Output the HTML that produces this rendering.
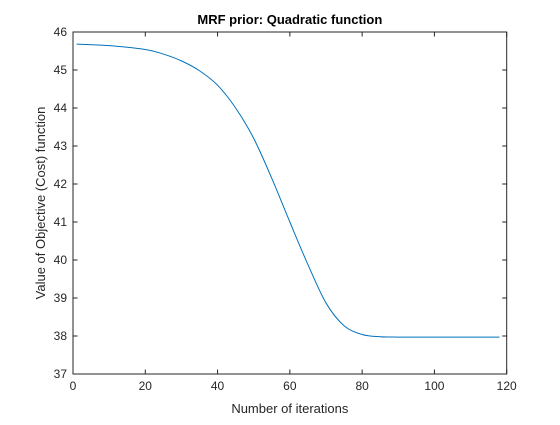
<!DOCTYPE html>
<html><head><meta charset="utf-8"><style>
body{margin:0;background:#fff;}
svg text{font-family:"Liberation Sans",sans-serif;}
</style></head><body>
<svg width="560" height="420" viewBox="0 0 560 420">
<rect width="560" height="420" fill="#fff"/>
<g id="plot"></g>
</svg>
<script>
const iters=[1,10,20,25,30,35,40,45,50,55,60,65,70,75,80,85,90,100,110,118];
const costs=[45.68,45.64,45.54,45.42,45.24,44.98,44.6,44.0,43.2,42.15,41.0,39.88,38.87,38.27,38.04,37.98,37.972,37.97,37.97,37.97];
const xTicks=[0,20,40,60,80,100,120];
const yTicks=[37,38,39,40,41,42,43,44,45,46];
const L=73,R=506.7,T=32,B=374;
const sx=v=>L+(v-0)/(120-0)*(R-L);
const sy=v=>B-(v-37)/(46-37)*(B-T);
const NS='http://www.w3.org/2000/svg';
const g=document.getElementById('plot');
function mk(t,a,p){const e=document.createElementNS(NS,t);for(const k in a)e.setAttribute(k,a[k]);(p||g).appendChild(e);return e;}
let box=mk('rect',{x:L,y:T,width:R-L,height:B-T,fill:'#fff',stroke:'#262626','stroke-width':1});


xTicks.forEach(v=>{const x=sx(v);
 mk('line',{x1:x,x2:x,y1:B,y2:B-4.5,stroke:'#262626'});
 mk('line',{x1:x,x2:x,y1:T,y2:T+4.5,stroke:'#262626'});
 const t=mk('text',{x:x,y:B+16,'text-anchor':'middle','font-size':12,fill:'#262626'});t.textContent=v;
 
 });
yTicks.forEach(v=>{const y=sy(v);
 mk('line',{x1:L,x2:L+4.5,y1:y,y2:y,stroke:'#262626'});
 mk('line',{x1:R,x2:R-4.5,y1:y,y2:y,stroke:'#262626'});
 const t=mk('text',{x:L-6,y:y+4,'text-anchor':'end','font-size':12,fill:'#262626'});t.textContent=v;
 
 });
const pts=iters.map((v,i)=>[sx(v),sy(costs[i])]);
let d='M'+pts[0][0]+','+pts[0][1];
for(let i=0;i<pts.length-1;i++){const p0=pts[Math.max(0,i-1)],p1=pts[i],p2=pts[i+1],p3=pts[Math.min(pts.length-1,i+2)];
 const c1=[p1[0]+(p2[0]-p0[0])/6,p1[1]+(p2[1]-p0[1])/6],c2=[p2[0]-(p3[0]-p1[0])/6,p2[1]-(p3[1]-p1[1])/6];
 d+=' C'+c1+' '+c2+' '+p2;}
const line=mk('path',{d:d,fill:'none',stroke:'#0072bd','stroke-width':1});


const ti=mk('text',{x:(L+R)/2,y:24,'text-anchor':'middle','font-size':13,'font-weight':'bold',fill:'#000'});ti.textContent='MRF prior: Quadratic function';


const xl=mk('text',{x:(L+R)/2,y:413,'text-anchor':'middle','font-size':13,fill:'#262626'});xl.textContent='Number of iterations';


const yl=mk('text',{x:0,y:0,'text-anchor':'middle','font-size':13,fill:'#262626',transform:'translate(45,'+((T+B)/2)+') rotate(-90)'});yl.textContent='Value of Objective (Cost) function';


</script>
</body></html>
